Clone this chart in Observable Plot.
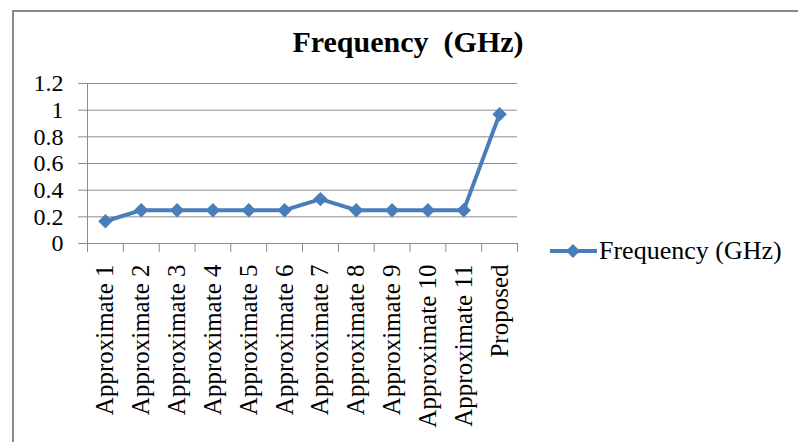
<!DOCTYPE html>
<html><head><meta charset="utf-8">
<script src="https://cdn.jsdelivr.net/npm/d3@7"></script>
<script src="https://cdn.jsdelivr.net/npm/@observablehq/plot@0.6"></script>
<style>
body{margin:0;background:#fff;width:798px;height:442px;overflow:hidden;position:relative;font-family:"Liberation Serif","Times New Roman",serif;}
#frame{position:absolute;left:12px;top:10px;width:800px;height:440px;border-left:2px solid #8a8a8a;border-top:2px solid #8a8a8a;}
#title{position:absolute;left:208px;width:400px;top:25px;text-align:center;font-weight:bold;font-size:30px;line-height:34px;color:#000;white-space:pre;}
#chart{position:absolute;left:0;top:0;}
#legend{position:absolute;left:548px;top:236px;display:flex;align-items:center;font-size:26px;color:#000;}
#legend svg{display:block;margin-right:1px;}
</style></head>
<body>
<div id="frame"></div>
<div id="title"></div>
<div id="chart"></div>
<div id="legend"></div>
<script>
const categories = ["Approximate 1","Approximate 2","Approximate 3","Approximate 4","Approximate 5","Approximate 6","Approximate 7","Approximate 8","Approximate 9","Approximate 10","Approximate 11","Proposed"];
const frequency = [0.167,0.25,0.25,0.25,0.25,0.25,0.333,0.25,0.25,0.25,0.25,0.97];
const yTicks = [0,0.2,0.4,0.6,0.8,1,1.2];
const yTickLabels = ["0","0.2","0.4","0.6","0.8","1","1.2"];
const seriesName = "Frequency (GHz)";
const chartTitle = "Frequency  (GHz)";

const blue = "#4a7ebb", grid = "#8c8c8c";
const data = categories.map((c,i)=>({i, c, v: frequency[i]}));
const idx = categories.map((c,i)=>i);
const bounds = [...idx.map(i=>i-0.5), categories.length-0.5];

document.getElementById("title").textContent = chartTitle;

const chart = Plot.plot({
  width:560, height:442, marginLeft:87, marginTop:83, marginBottom:199, marginRight:43,
  style:{fontFamily:"'Liberation Serif','Times New Roman',serif", fontSize:"24px", color:"#000", background:"transparent", overflow:"visible"},
  x:{type:"linear", domain:[-0.5, categories.length-0.5], axis:null, label:null},
  y:{domain:[0,1.2], axis:null, label:null},
  marks:[
    Plot.gridY(yTicks, {stroke:grid, strokeOpacity:1, strokeWidth:1}),
    Plot.ruleX([-0.5], {stroke:grid, strokeWidth:1}),
    Plot.ruleY([0], {stroke:grid, strokeWidth:1}),
    Plot.axisY(yTicks, {tickSize:9, tickPadding:15, tickFormat:d=>yTickLabels[yTicks.indexOf(d)], stroke:grid, fontSize:24, label:null}),
    Plot.axisX(bounds, {tickSize:9, tickFormat:()=>"", stroke:grid, label:null}),
    Plot.axisX(idx, {tickSize:0, tickPadding:21, tickRotate:-90, tickFormat:i=>categories[i], fontSize:25, label:null}),
    Plot.line(data, {x:"i", y:"v", stroke:blue, strokeWidth:4}),
    Plot.dot(data, {x:"i", y:"v", symbol:"diamond2", r:6.5, fill:blue, stroke:"none"})
  ]
});
document.getElementById("chart").appendChild(chart);

const lg = document.getElementById("legend");
lg.innerHTML = `<svg width="50" height="24"><line x1="2" y1="12" x2="49" y2="12" stroke="${blue}" stroke-width="4"/><path d="M25,5 L32,12 L25,19 L18,12Z" fill="${blue}"/></svg><span></span>`;
lg.querySelector("span").textContent = seriesName;
</script>
</body></html>
